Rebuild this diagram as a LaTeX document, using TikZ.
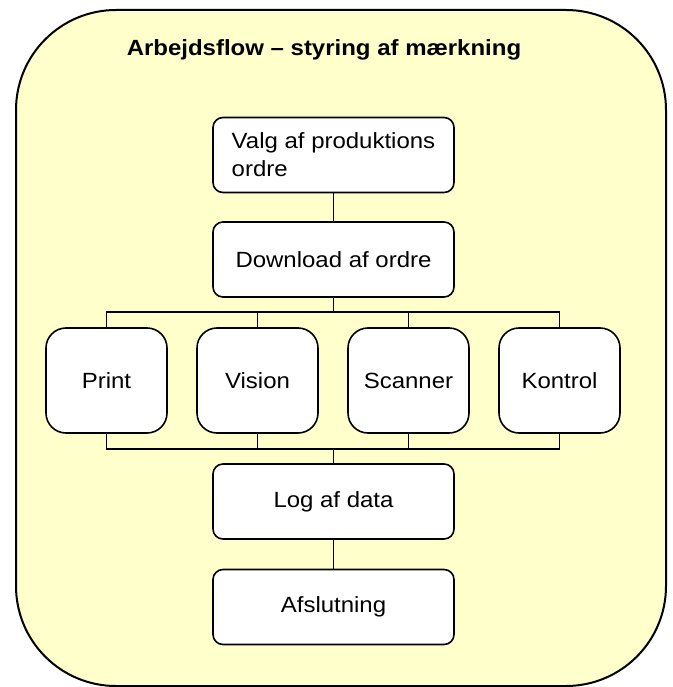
\documentclass[tikz,border=0pt]{standalone}
\usepackage{fontspec}
\setmainfont{Liberation Sans}[FakeStretch=1.09]
\definecolor{paleyellow}{HTML}{FFFFCC}
\begin{document}
\begin{tikzpicture}[x=1pt,y=1pt,
  box/.style={draw=black,line width=1.6pt,fill=white,rounded corners=10pt,
    minimum width=241pt,minimum height=75pt,inner sep=0pt,
    font=\fontsize{22}{28}\selectfont},
  tallbox/.style={box,rounded corners=20pt,minimum width=121pt,minimum height=105pt},
  link/.style={draw=black,line width=1.5pt}]
\useasboundingbox (0,0) rectangle (672,-687);
\draw[fill=paleyellow,line width=2pt,rounded corners=100pt] (16,-10) rectangle (666,-686);
\node[font=\fontsize{22}{28}\selectfont\bfseries] (title) at (324,-50) {Arbejdsflow – styring af mærkning};
\node[box,align=left] (valg) at (333.5,-155) {Valg af produktions\\ordre};
\node[box] (dl) at (333.5,-259.5) {Download af ordre};
\node[tallbox] (print) at (106.5,-380.5) {Print};
\node[tallbox] (vision) at (257.5,-380.5) {Vision};
\node[tallbox] (scanner) at (408.5,-380.5) {Scanner};
\node[tallbox] (kontrol) at (559.5,-380.5) {Kontrol};
\node[box] (log) at (333.5,-501.5) {Log af data};
\node[box] (afs) at (333.5,-607) {Afslutning};
\coordinate (top) at (333.5,-312);
\coordinate (bot) at (333.5,-449);
\draw[link] (valg) -- (dl);
\draw[link] (dl.south) -- (top);
\foreach \n in {print,vision,scanner,kontrol}{
  \draw[link] (\n.north) |- (top);
  \draw[link] (\n.south) |- (bot);
}
\draw[link] (bot) -- (log.north);
\draw[link] (log) -- (afs);
\end{tikzpicture}
\end{document}
